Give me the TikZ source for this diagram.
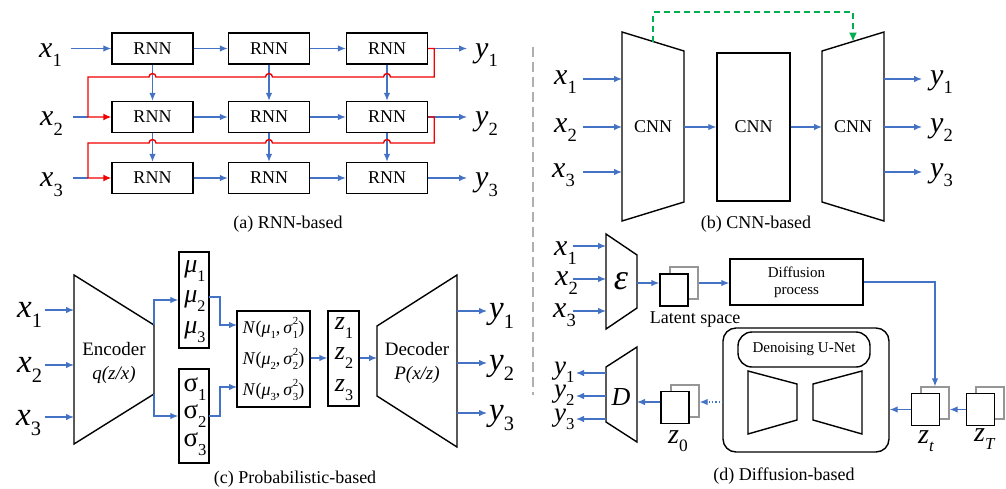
\documentclass[tikz,border=0pt]{standalone}
\usepackage{fontspec}
\setmainfont{Liberation Serif}
\usepackage{graphicx}
\usetikzlibrary{arrows.meta,calc}
\definecolor{myblue}{RGB}{68,114,196}
\definecolor{myred}{RGB}{240,0,0}
\definecolor{mygreen}{RGB}{0,176,80}
\definecolor{mygray}{RGB}{150,150,150}
\definecolor{sepgray}{RGB}{175,175,175}
\newcommand\fs[1]{\fontsize{#1}{#1}\selectfont}
\newcommand\lsub[2]{\textit{#1}\raisebox{-0.32em}{\scalebox{0.62}{#2}}}
\newcommand\isub[2]{\textit{#1}\raisebox{-0.3em}{\scalebox{0.6}{\textit{#2}}}}
\newcommand\ssb[1]{\raisebox{-0.25em}{\scalebox{0.6}{#1}}}
\newcommand\ssp[2]{\rlap{\raisebox{0.5em}{\scalebox{0.6}{#1}}}\raisebox{-0.25em}{\scalebox{0.6}{#2}}}
\newcommand\Nterm[1]{\textit{N}(\textit{μ}\ssb{#1},\,\textit{σ}\ssp{2}{#1})}
\begin{document}
\begin{tikzpicture}[x=1pt,y=-1pt,
  blu/.style={myblue, line width=1.2pt, -{Latex[length=8pt,width=6.5pt]}},
  bl/.style={myblue, line width=1.2pt},
  rd/.style={myred, line width=1.4pt, -{Latex[length=8pt,width=7pt]}},
  grn/.style={mygreen, line width=1.3pt, dash pattern=on 6pt off 4pt, -{Latex[length=9pt,width=8pt]}},
  box/.style={draw, line width=1.4pt, inner sep=0pt},
  trap/.style={draw, line width=1.4pt, line join=miter},
  lab/.style={inner sep=0pt, anchor=base west},
  captxt/.style={inner sep=0pt, anchor=base, font=\fs{18}},
  gbox/.style={draw=mygray, line width=1.3pt, fill=white, minimum width=28pt, minimum height=32pt, inner sep=0pt},
  fbox/.style={draw, line width=1.4pt, fill=white, minimum width=28pt, minimum height=32pt, inner sep=0pt}
]
\useasboundingbox (0,0) rectangle (1006,488);

% ================= (a) RNN-based =================
\foreach \c/\xx in {1/152.5,2/269,3/387}
  \foreach \r/\yy in {1/48.5,2/117,3/178}
    \node[box, minimum width=81pt, minimum height=31pt, font=\fs{18}] (a\r\c) at (\xx,\yy) {RNN};
\foreach \r in {1,2,3}{
  \draw[blu] (a\r1.east) -- (a\r2.west);
  \draw[blu] (a\r2.east) -- (a\r3.west);
}
\foreach \c in {1,2,3}{
  \draw[blu] (a1\c.south) -- (a2\c.north);
  \draw[blu] (a2\c.south) -- (a3\c.north);
}
\coordinate (ax1) at (71,48.5);
\coordinate (ax2) at (73,117);
\coordinate (ax3) at (73,178);
\coordinate (aj2) at (88,117);
\coordinate (aj3) at (88,178);
\draw[blu] (ax1) -- (a11.west);
\draw[bl] (ax2) -- (aj2);
\draw[bl] (ax3) -- (aj3);
\foreach \r in {1,2,3}{
  \coordinate (ay\r) at (467,0 |- a\r3.east);
  \draw[blu] (a\r3.east) -- (ay\r);
}
\draw[rd] (a13.east) -- ++(6,0) |- (390.5,77)
  arc[start angle=0,end angle=180,radius=3.5pt] -- (272.5,77)
  arc[start angle=0,end angle=180,radius=3.5pt] -- (156,77)
  arc[start angle=0,end angle=180,radius=3.5pt] -- (88,77) -- (aj2) -- (a21.west);
\draw[rd] (a23.east) -- ++(6,0) |- (390.5,143)
  arc[start angle=0,end angle=180,radius=3.5pt] -- (272.5,143)
  arc[start angle=0,end angle=180,radius=3.5pt] -- (156,143)
  arc[start angle=0,end angle=180,radius=3.5pt] -- (88,143) -- (aj3) -- (a31.west);
\node[lab, font=\fs{30}] (alx1) at (39,57) {\lsub{x}{1}};
\node[lab, font=\fs{30}] (alx2) at (40,125.5) {\lsub{x}{2}};
\node[lab, font=\fs{30}] (alx3) at (40,186.5) {\lsub{x}{3}};
\node[lab, font=\fs{30}] (aly1) at (475,57) {\lsub{y}{1}};
\node[lab, font=\fs{30}] (aly2) at (475,125.5) {\lsub{y}{2}};
\node[lab, font=\fs{30}] (aly3) at (475,186.5) {\lsub{y}{3}};
\node[captxt] (capa) at (288,228) {(a) RNN-based};

% separator
\draw[sepgray, line width=1.4pt, dash pattern=on 10pt off 5pt] (533,47) -- (533,395);

% ================= (b) CNN-based =================
\draw[trap] (622,32) -- (684,51) -- (684,202) -- (622,221) -- cycle;
\draw[trap] (822,51) -- (884,32) -- (884,221) -- (822,202) -- cycle;
\node[font=\fs{18}] (b1) at (653,127) {CNN};
\node[box, minimum width=73pt, minimum height=148pt, font=\fs{18}] (b2) at (753.5,127) {CNN};
\node[font=\fs{18}] (b3) at (853,127) {CNN};
\coordinate (b1e) at (684,127);
\coordinate (b3w) at (822,127);
\draw[blu] (b1e) -- (b2.west);
\draw[blu] (b2.east) -- (b3w);
\foreach \i/\yy in {1/79,2/127,3/172}{
  \coordinate (bxs\i) at (583,\yy);
  \coordinate (bxe\i) at (622,\yy);
  \draw[blu] (bxs\i) -- (bxe\i);
  \coordinate (bys\i) at (884,\yy);
  \coordinate (bye\i) at (922,\yy);
  \draw[blu] (bys\i) -- (bye\i);
}
\node[lab, font=\fs{30}] (blx1) at (554,84) {\lsub{x}{1}};
\node[lab, font=\fs{30}] (blx2) at (554,132) {\lsub{x}{2}};
\node[lab, font=\fs{30}] (blx3) at (552,177) {\lsub{x}{3}};
\node[lab, font=\fs{30}] (bly1) at (930,84) {\lsub{y}{1}};
\node[lab, font=\fs{30}] (bly2) at (930,132) {\lsub{y}{2}};
\node[lab, font=\fs{30}] (bly3) at (930,177) {\lsub{y}{3}};
\coordinate (gs) at (653,41.5);
\coordinate (ge) at (853,41.5);
\draw[grn] (gs) -- (653,12) -- (853,12) -- (ge);
\node[captxt] (capb) at (756,228) {(b) CNN-based};

% ================= (c) Probabilistic-based =================
\draw[trap] (74,275) -- (154,325) -- (154,394) -- (74,444) -- cycle;
\node[font=\fs{19}] (enc) at (114,349) {Encoder};
\node[font=\fs{19}] (encq) at (114,375) {\textit{q(z/x)}};
\foreach \i/\yy in {1/310,2/365,3/417}{
  \coordinate (cxs\i) at (45,\yy);
  \coordinate (cxe\i) at (74,\yy);
  \draw[blu] (cxs\i) -- (cxe\i);
}
\node[lab, font=\fs{33}] (clx1) at (17,317) {\lsub{x}{1}};
\node[lab, font=\fs{33}] (clx2) at (17,372) {\lsub{x}{2}};
\node[lab, font=\fs{33}] (clx3) at (16,425) {\lsub{x}{3}};
\node[box, minimum width=30pt, minimum height=96pt] (mu) at (194,300) {};
\node[font=\fs{26}] (mu1) at (195,271) {\lsub{μ}{1}};
\node[font=\fs{26}] (mu2) at (195,301) {\lsub{μ}{2}};
\node[font=\fs{26}] (mu3) at (195,332) {\lsub{μ}{3}};
\node[box, minimum width=30pt, minimum height=94pt] (sg) at (194,416) {};
\node[font=\fs{27}] (sg1) at (195,389) {σ\raisebox{-0.32em}{\scalebox{0.62}{1}}};
\node[font=\fs{27}] (sg2) at (195,416) {σ\raisebox{-0.32em}{\scalebox{0.62}{2}}};
\node[font=\fs{27}] (sg3) at (195,444) {σ\raisebox{-0.32em}{\scalebox{0.62}{3}}};
\coordinate (encT) at (154,325);
\coordinate (encB) at (154,394);
\draw[blu] (encT) |- (mu.west);
\draw[blu] (encB) |- (sg.west);
\node[box, minimum width=73pt, minimum height=96pt] (nb) at (273.5,359) {};
\node[font=\fs{18}] (n1) at (273.5,328) {\Nterm{1}};
\node[font=\fs{18}] (n2) at (273.5,359) {\Nterm{2}};
\node[font=\fs{18}] (n3) at (273.5,390) {\Nterm{3}};
\coordinate (muo) at (209,297);
\coordinate (sgo) at (209,416);
\coordinate (nin1) at (237,325);
\coordinate (nin3) at (237,387);
\draw[blu] (muo) -- (220,297) |- (nin1);
\draw[blu] (sgo) -- (220,416) |- (nin3);
\node[box, minimum width=31pt, minimum height=95pt] (zb) at (343.5,358.5) {};
\node[font=\fs{26}] (z1) at (344,328) {\lsub{z}{1}};
\node[font=\fs{26}] (z2) at (344,358) {\lsub{z}{2}};
\node[font=\fs{26}] (z3) at (344,390) {\lsub{z}{3}};
\draw[blu] (nb.east |- 0,358) -- (zb.west |- 0,358);
\coordinate (decin) at (377,358);
\draw[blu] (zb.east |- 0,358) -- (decin);
\draw[trap] (377,326) -- (457,275) -- (457,447) -- (377,396) -- cycle;
\node[font=\fs{19}] (dec) at (417,349) {Decoder};
\node[font=\fs{19}] (decp) at (417,375) {\textit{P(x/z)}};
\foreach \i/\yy in {1/311,2/363,3/413}{
  \coordinate (cys\i) at (457,\yy);
  \coordinate (cye\i) at (487,\yy);
  \draw[blu] (cys\i) -- (cye\i);
}
\node[lab, font=\fs{33}] (cly1) at (489,318) {\lsub{y}{1}};
\node[lab, font=\fs{33}] (cly2) at (489,370) {\lsub{y}{2}};
\node[lab, font=\fs{33}] (cly3) at (489,420) {\lsub{y}{3}};
\node[captxt] (capc) at (295,483) {(c) Probabilistic-based};

% ================= (d) Diffusion-based =================
\draw[trap] (606,234) -- (637,255) -- (637,308) -- (606,329) -- cycle;
\node[font=\fs{36}] (eps) at (621,281) {\textit{ε}};
\foreach \i/\yy in {1/246,2/279,3/311}{
  \coordinate (dxs\i) at (573,\yy);
  \coordinate (dxe\i) at (606,\yy);
  \draw[blu] (dxs\i) -- (dxe\i);
}
\node[lab, font=\fs{30}] (dlx1) at (554,255) {\lsub{x}{1}};
\node[lab, font=\fs{30}] (dlx2) at (555,285) {\lsub{x}{2}};
\node[lab, font=\fs{30}] (dlx3) at (553,317) {\lsub{x}{3}};
% latent
\node[gbox] (lat2) at (684,283) {};
\node[fbox] (lat1) at (674,290) {};
\coordinate (eout) at (637,283);
\draw[blu] (eout) -- (eout -| lat1.west);
\node[font=\fs{18}] (latl) at (695,320) {Latent space};
\node[box, minimum width=133pt, minimum height=46pt, font=\fs{15}, align=center] (diff) at (796.5,282) {Diffusion\\[2pt]process};
\draw[blu] (lat2.east) -- (diff.west |- lat2.east);
% z_t, z_T
\node[gbox] (zt2) at (935,403) {};
\node[fbox] (zt1) at (925.5,409.5) {};
\node[gbox] (zT2) at (990,403) {};
\node[fbox] (zT1) at (980.5,409.5) {};
\draw[blu] (diff.east) -| (zt2.north);
\draw[blu] (zT1.west) -- (zT1.west -| zt2.east);
% U-Net box
\node[draw, line width=1.4pt, rounded corners=13pt, minimum width=166pt, minimum height=124pt] (ub) at (806,390) {};
\node[draw, line width=1.4pt, rounded corners=14pt, minimum width=132pt, minimum height=35pt, font=\fs{15}] (dn) at (804,349.5) {Denoising U-Net};
\draw[trap] (748,371) -- (797,384) -- (797,420) -- (748,434) -- cycle;
\draw[trap] (813,384) -- (862,371) -- (862,434) -- (813,420) -- cycle;
\draw[blu] (zt1.west) -- (zt1.west -| ub.east);
% z_0
\node[gbox] (z02) at (685,401) {};
\node[fbox] (z01) at (675,407.5) {};
\coordinate (ubw) at (723,402);
\draw[myblue, line width=1.2pt, dotted, -{Latex[length=8pt,width=6.5pt]}] (ubw) -- (ubw -| z02.east);
% D
\draw[trap] (606,367) -- (637,347) -- (637,442) -- (606,422) -- cycle;
\node[font=\fs{26}] (dD) at (621,397) {\textit{D}};
\coordinate (din) at (637,402);
\draw[blu] (z01.west |- din) -- (din);
\foreach \i/\yy in {1/373,2/396,3/419}{
  \coordinate (dys\i) at (606,\yy);
  \coordinate (dye\i) at (576,\yy);
  \draw[blu] (dys\i) -- (dye\i);
}
\node[lab, font=\fs{27}] (dly1) at (554,374) {\lsub{y}{1}};
\node[lab, font=\fs{27}] (dly2) at (554,397) {\lsub{y}{2}};
\node[lab, font=\fs{27}] (dly3) at (554,421) {\lsub{y}{3}};
\node[lab, font=\fs{28}] (lz0) at (668,443) {\lsub{z}{0}};
\node[lab, font=\fs{28}] (lzt) at (918,443) {\isub{z}{t}};
\node[lab, font=\fs{28}] (lzT) at (974,441) {\isub{z}{T}};
\node[captxt] (capd) at (784,480) {(d) Diffusion-based};
\end{tikzpicture}
\end{document}
